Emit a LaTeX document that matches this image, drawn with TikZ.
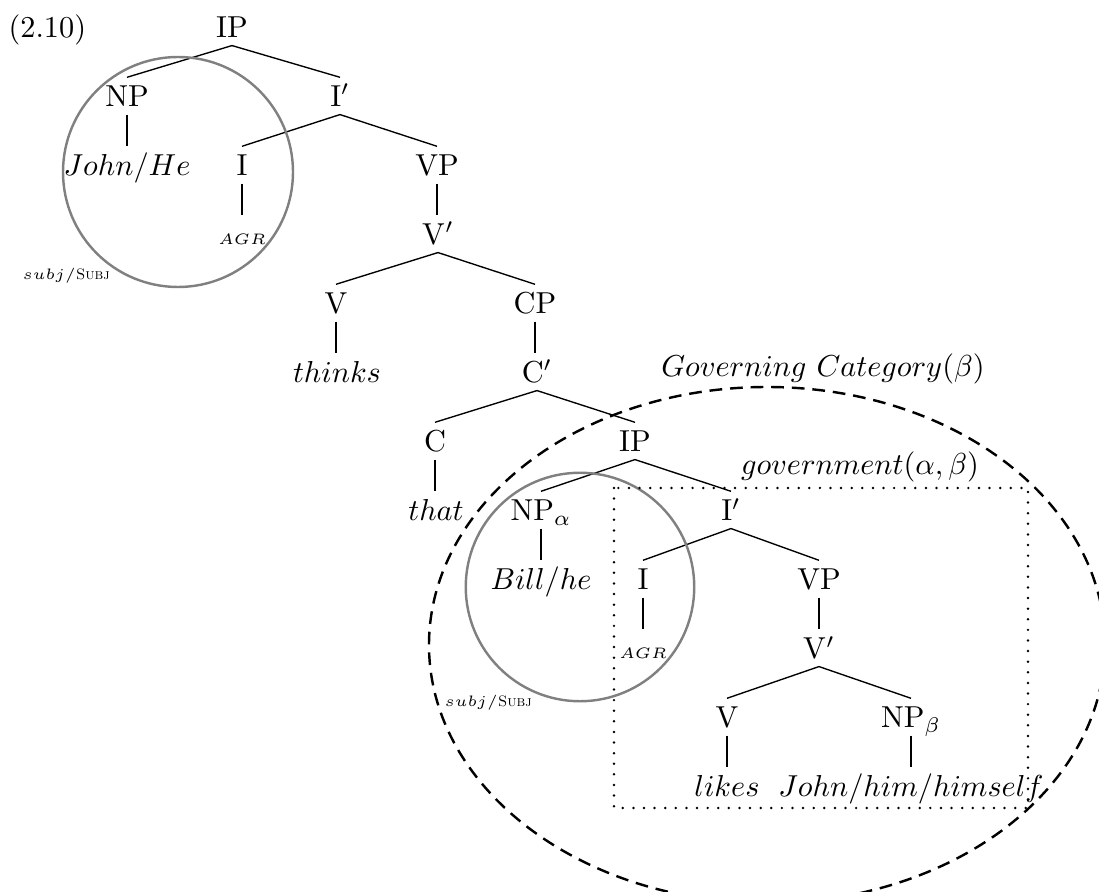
\documentclass[tikz,border=0pt]{standalone}
\begin{document}
\begin{tikzpicture}[x=0.33pt,y=-0.33pt,
  tn/.style={anchor=base, inner xsep=0pt, inner ysep=2.3pt, text height=7.3pt, text depth=0pt},
  lbl/.style={inner sep=0pt},
  br/.style={line width=0.45pt},
  vt/.style={line width=0.9pt},
  subjcircle/.style={draw=gray, line width=0.8pt},
  gcellipse/.style={draw=black, line width=0.8pt, dash pattern=on 4.2pt off 2.6pt},
  govbox/.style={draw=black, line width=0.9pt, line cap=round, dash pattern=on 0pt off 3.5pt}]
\useasboundingbox (0,0) rectangle (1099,892);
\clip (0,0) rectangle (1099,892);
% nodes
\node[tn] (IP0) at (232,38) {IP};
\node[tn] (NP1) at (127,107) {NP};
\node[tn] (Ib1) at (340,107) {$\mathrm{I}'$};
\node[tn] (John1) at (127,176) {$John/He$};
\node[tn] (I1) at (242,176) {I};
\node[tn] (VP1) at (437,176) {VP};
\node[tn] (AGR1) at (242,245) {\tiny $AGR$};
\node[tn] (Vb1) at (438,245) {$\mathrm{V}'$};
\node[tn] (V1) at (336,314) {V};
\node[tn] (CP1) at (535,314) {CP};
\node[tn] (thinks) at (337,383) {$thinks$};
\node[tn] (Cb1) at (537,383) {$\mathrm{C}'$};
\node[tn] (C1) at (435,452) {C};
\node[tn] (IP2) at (635,452) {IP};
\node[tn] (that) at (436,521) {$that$};
\node[tn] (NPa) at (541,521) {$\mathrm{NP}_\alpha$};
\node[tn] (Ib2) at (731,521) {$\mathrm{I}'$};
\node[tn] (Bill) at (541,590) {$Bill/he$};
\node[tn] (I2) at (643,590) {I};
\node[tn] (VP2) at (819,590) {VP};
\node[tn] (AGR2) at (643,659) {\tiny $AGR$};
\node[tn] (Vb2) at (819,659) {$\mathrm{V}'$};
\node[tn] (V2) at (727,728) {V};
\node[tn] (NPb) at (911,728) {$\mathrm{NP}_\beta$};
\node[tn] (likes) at (727,797) {$likes$};
\node[tn] (John2) at (911,797) {$John/him/himself$};
% labels
\node[lbl, anchor=base west] (ex) at (8,38) {(2.10)};
\node[lbl, anchor=base west] (subj1) at (22,280) {\tiny $subj/$\textsc{Subj}};
\node[lbl, anchor=base west] (subj2) at (444,707) {\tiny $subj/$\textsc{Subj}};
\node[lbl, anchor=base] (gc) at (823,377) {$Governing\ Category(\beta)$};
\node[lbl, anchor=base] (gov) at (860,475) {$government(\alpha,\beta)$};
% branches
\foreach \a/\b in {IP0/NP1, IP0/Ib1, Ib1/I1, Ib1/VP1, Vb1/V1, Vb1/CP1, Cb1/C1, Cb1/IP2, IP2/NPa, IP2/Ib2, Ib2/I2, Ib2/VP2, Vb2/V2, Vb2/NPb}
  \draw[br] (\a.south) -- (\b.north);
\foreach \a/\b in {NP1/John1, I1/AGR1, VP1/Vb1, V1/thinks, CP1/Cb1, C1/that, NPa/Bill, I2/AGR2, VP2/Vb2, V2/likes, NPb/John2}
  \draw[vt] (\a.south) -- (\a.south |- \b.north);
% regions
\draw[subjcircle] (178,172) circle [radius=37.95pt];
\draw[subjcircle] (580,587) circle [radius=37.7pt];
\draw[govbox] (614,488) rectangle (1028,808);
\draw[gcellipse] (767,645) ellipse [x radius=111.54pt, y radius=85.14pt];
\end{tikzpicture}
\end{document}
